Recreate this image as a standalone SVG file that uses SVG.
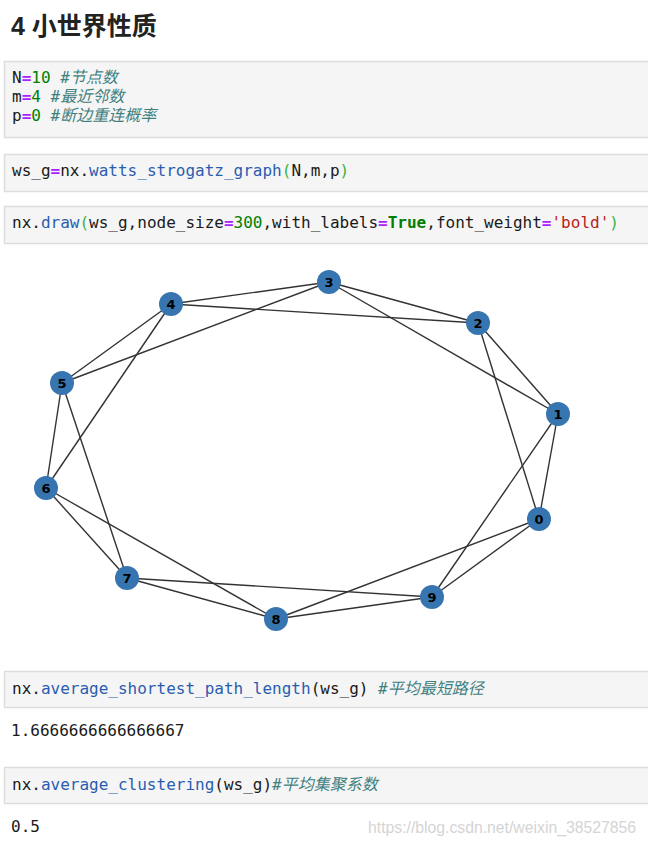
<svg xmlns="http://www.w3.org/2000/svg" width="648" height="846" viewBox="0 0 648 846">
<style>
.cell{fill:#f5f5f5;stroke:#dddddd;stroke-width:1.5}
.code{font-family:"DejaVu Sans Mono","Noto Sans CJK SC",monospace;font-size:16px;fill:#1a1a1a}
.op{fill:#aa22ff;font-weight:bold}
.num{fill:#008000}
.kw{fill:#008000;font-weight:bold}
.str{fill:#ba2121}
.cm{fill:#408080;font-style:italic}
.fn{fill:#2a5db0}
.br{fill:#3cb043}
.edge{stroke:#333333;stroke-width:1.4;fill:none}
.node circle{fill:#3775b0}
.node text{font-family:"DejaVu Sans",sans-serif;font-size:13px;font-weight:bold;fill:#000;text-anchor:middle}
</style>
<rect width="648" height="846" fill="#ffffff"/>
<text x="11" y="35" font-family="Liberation Sans,'Noto Sans CJK SC',sans-serif" font-size="25" font-weight="bold" fill="#222">4 小世界性质</text>

<g id="cell1">
<rect class="cell" x="4.5" y="61.5" width="700" height="76"/>
<text class="code" x="12" y="83">N<tspan class="op">=</tspan><tspan class="num">10</tspan> <tspan class="cm">#节点数</tspan></text>
<text class="code" x="12" y="102">m<tspan class="op">=</tspan><tspan class="num">4</tspan> <tspan class="cm">#最近邻数</tspan></text>
<text class="code" x="12" y="121">p<tspan class="op">=</tspan><tspan class="num">0</tspan> <tspan class="cm">#断边重连概率</tspan></text>
</g>

<g id="cell2">
<rect class="cell" x="4.5" y="154.5" width="700" height="37"/>
<text class="code" x="12" y="176">ws_g<tspan class="op">=</tspan>nx.<tspan class="fn">watts_strogatz_graph</tspan><tspan class="br">(</tspan>N,m,p<tspan class="br">)</tspan></text>
</g>

<g id="cell3">
<rect class="cell" x="4.5" y="206.5" width="700" height="37"/>
<text class="code" x="12" y="228">nx.<tspan class="fn">draw</tspan><tspan class="br">(</tspan>ws_g,node_size<tspan class="op">=</tspan><tspan class="num">300</tspan>,with_labels<tspan class="op">=</tspan><tspan class="kw">True</tspan>,font_weight<tspan class="op">=</tspan><tspan class="str">'bold'</tspan><tspan class="br">)</tspan></text>
</g>

<g id="connectors">
<line class="edge" x1="539" y1="519" x2="558" y2="414"/>
<line class="edge" x1="539" y1="519" x2="478" y2="323"/>
<line class="edge" x1="539" y1="519" x2="432" y2="597"/>
<line class="edge" x1="539" y1="519" x2="276" y2="619"/>
<line class="edge" x1="558" y1="414" x2="478" y2="323"/>
<line class="edge" x1="558" y1="414" x2="329" y2="282"/>
<line class="edge" x1="558" y1="414" x2="432" y2="597"/>
<line class="edge" x1="478" y1="323" x2="329" y2="282"/>
<line class="edge" x1="478" y1="323" x2="171" y2="304"/>
<line class="edge" x1="329" y1="282" x2="171" y2="304"/>
<line class="edge" x1="329" y1="282" x2="62" y2="383"/>
<line class="edge" x1="171" y1="304" x2="62" y2="383"/>
<line class="edge" x1="171" y1="304" x2="46" y2="488"/>
<line class="edge" x1="62" y1="383" x2="46" y2="488"/>
<line class="edge" x1="62" y1="383" x2="127" y2="578"/>
<line class="edge" x1="46" y1="488" x2="127" y2="578"/>
<line class="edge" x1="46" y1="488" x2="276" y2="619"/>
<line class="edge" x1="127" y1="578" x2="276" y2="619"/>
<line class="edge" x1="127" y1="578" x2="432" y2="597"/>
<line class="edge" x1="276" y1="619" x2="432" y2="597"/>
</g>

<g id="n0" class="node"><circle cx="539" cy="519" r="12"/><text x="539" y="523.5">0</text></g>
<g id="n1" class="node"><circle cx="558" cy="414" r="12"/><text x="558" y="418.5">1</text></g>
<g id="n2" class="node"><circle cx="478" cy="323" r="12"/><text x="478" y="327.5">2</text></g>
<g id="n3" class="node"><circle cx="329" cy="282" r="12"/><text x="329" y="286.5">3</text></g>
<g id="n4" class="node"><circle cx="171" cy="304" r="12"/><text x="171" y="308.5">4</text></g>
<g id="n5" class="node"><circle cx="62" cy="383" r="12"/><text x="62" y="387.5">5</text></g>
<g id="n6" class="node"><circle cx="46" cy="488" r="12"/><text x="46" y="492.5">6</text></g>
<g id="n7" class="node"><circle cx="127" cy="578" r="12"/><text x="127" y="582.5">7</text></g>
<g id="n8" class="node"><circle cx="276" cy="619" r="12"/><text x="276" y="623.5">8</text></g>
<g id="n9" class="node"><circle cx="432" cy="597" r="12"/><text x="432" y="601.5">9</text></g>

<g id="cell4">
<rect class="cell" x="4.5" y="671.5" width="700" height="36"/>
<text class="code" x="12" y="694">nx.<tspan class="fn">average_shortest_path_length</tspan>(ws_g) <tspan class="cm">#平均最短路径</tspan></text>
</g>
<text class="code" x="11" y="736">1.6666666666666667</text>

<g id="cell5">
<rect class="cell" x="4.5" y="767.5" width="700" height="36"/>
<text class="code" x="12" y="790">nx.<tspan class="fn">average_clustering</tspan>(ws_g)<tspan class="cm">#平均集聚系数</tspan></text>
</g>
<text class="code" x="11" y="832">0.5</text>

<text x="368" y="833" font-family="Liberation Sans,sans-serif" font-size="16" fill="#d4d4d4" textLength="268" lengthAdjust="spacingAndGlyphs">https://blog.csdn.net/weixin_38527856</text>
</svg>
